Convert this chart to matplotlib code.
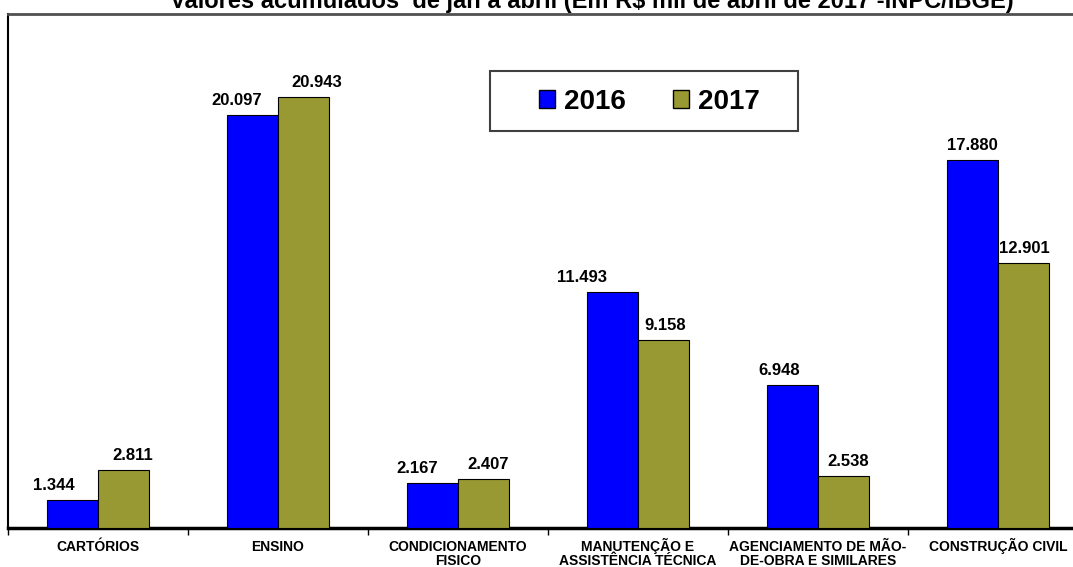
import matplotlib
matplotlib.use("Agg")
import matplotlib.pyplot as plt
from matplotlib.patches import Patch, Rectangle
from matplotlib.transforms import blended_transform_factory, offset_copy
import numpy as np

plt.rcParams['font.family'] = ['Liberation Sans', 'DejaVu Sans']

categories = [
    "CARTÓRIOS",
    "ENSINO",
    "CONDICIONAMENTO\nFISICO",
    "MANUTENÇÃO E\nASSISTÊNCIA TÉCNICA",
    "AGENCIAMENTO DE MÃO-\nDE-OBRA E SIMILARES",
    "CONSTRUÇÃO CIVIL",
]
values_2016 = [1344, 20097, 2167, 11493, 6948, 17880]
values_2017 = [2811, 20943, 2407, 9158, 2538, 12901]
series_names = ["2016", "2017"]
title = "Valores acumulados  de jan a abril (Em R$ mil de abril de 2017 -INPC/IBGE)"

# horizontal nudges of the value labels (pixels)
nudge_2016 = [-19, -16, -15, -30, -13, 0]
nudge_2017 = [9, 13, 4, 2, 5, 1]

W, H = 1073, 567
fig = plt.figure(figsize=(W / 100, H / 100), dpi=100)
fig.patch.set_facecolor("white")

ax_left, ax_right, ax_top, ax_bottom = 8, 1088, 14, 528
ax = fig.add_axes([ax_left / W, 1 - ax_bottom / H,
                   (ax_right - ax_left) / W, (ax_bottom - ax_top) / H])

x = np.arange(len(categories))
bw = 0.285
c16, c17 = "#0000FF", "#999933"
ax.bar(x - bw / 2, values_2016, bw, color=c16, edgecolor="black", linewidth=0.8, zorder=3)
ax.bar(x + bw / 2, values_2017, bw, color=c17, edgecolor="black", linewidth=0.8, zorder=3)

def fmt(v):
    return f"{v:,}".replace(",", ".")

for xi, v, dx in zip(x - bw / 2, values_2016, nudge_2016):
    ax.annotate(fmt(v), (xi, v), xytext=(dx * 0.72, 7.2), textcoords="offset points",
                ha="center", va="baseline", fontsize=12, fontweight="bold")
for xi, v, dx in zip(x + bw / 2, values_2017, nudge_2017):
    ax.annotate(fmt(v), (xi, v), xytext=(dx * 0.72, 7.2), textcoords="offset points",
                ha="center", va="baseline", fontsize=12, fontweight="bold")

ax.set_xlim(-0.5, len(categories) - 0.5)
ax.set_ylim(0, 25000)
ax.set_yticks([])
ax.set_xticks(x)
ax.set_xticklabels([""] * len(categories))
ax.set_xticks(np.arange(len(categories) + 1) - 0.5, minor=True)
ax.tick_params(axis="x", which="major", length=0)
ax.tick_params(axis="x", which="minor", length=5, width=1, color="black", direction="out")

# category names, one baseline per line so all rows line up
trans = blended_transform_factory(ax.transData, ax.transAxes)
for xi, name in zip(x, categories):
    for k, line in enumerate(name.split("\n")):
        t = offset_copy(trans, fig=fig, x=0, y=-(23 + 14 * k) * 0.72, units="points")
        ax.text(xi, 0, line, transform=t, ha="center", va="baseline",
                fontsize=10, fontweight="bold", clip_on=False)

ax.spines["right"].set_visible(False)
ax.spines["top"].set_color("#505050")
ax.spines["top"].set_linewidth(2)
ax.spines["left"].set_color("black")
ax.spines["left"].set_linewidth(1.5)
ax.spines["bottom"].set_color("black")
ax.spines["bottom"].set_linewidth(2.5)

fig.text(592 / W, 1 - 8 / H, title, ha="center", va="baseline",
         fontsize=17, fontweight="bold")

# legend frame and entries
lx0, ly0, lx1, ly1 = 490, 71, 798, 131
fig.patches.append(Rectangle((lx0 / W, 1 - ly1 / H), (lx1 - lx0) / W, (ly1 - ly0) / H,
                             transform=fig.transFigure, facecolor="white",
                             edgecolor="#404040", linewidth=1.5, zorder=5))
handles = [Patch(facecolor=c16, edgecolor="black", label=series_names[0]),
           Patch(facecolor=c17, edgecolor="black", label=series_names[1])]
leg = fig.legend(handles=handles, loc="center", bbox_to_anchor=(649 / W, 1 - 102 / H),
                 ncol=2, frameon=False, prop={"size": 20, "weight": "bold"},
                 handlelength=0.6, handleheight=0.6, handletextpad=0.3,
                 columnspacing=1.7, borderpad=0)
leg.set_zorder(6)

fig.savefig("out.png", dpi=100, facecolor="white")
